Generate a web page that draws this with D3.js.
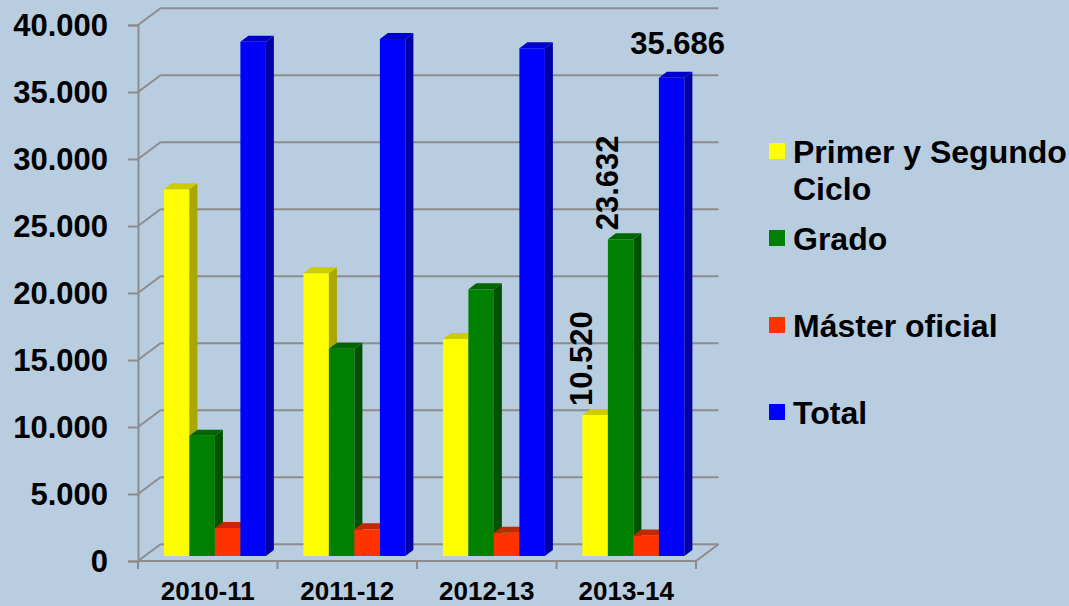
<!DOCTYPE html>
<html>
<head>
<meta charset="utf-8">
<script src="https://cdn.jsdelivr.net/npm/d3@7"></script>
<style>
  html, body { margin: 0; padding: 0; background: #b9cde0; }
  svg { display: block; }
  text { font-family: Arial, "Liberation Sans", sans-serif; font-weight: bold; fill: #000; }
</style>
</head>
<body>
<svg id="chart" width="1069" height="606"></svg>
<script>
// ---- data ----
const categories = ["2010-11", "2011-12", "2012-13", "2013-14"];
const seriesNames = ["Primer y Segundo Ciclo", "Grado", "Máster oficial", "Total"];
const primer = [27370, 21100, 16190, 10520];
const grado  = [8980, 15470, 19900, 23632];
const master = [2090, 1990, 1740, 1534];
const total  = [38380, 38580, 37890, 35686];
const yTicks = [0, 5000, 10000, 15000, 20000, 25000, 30000, 35000, 40000];
// labelled points: [series index, category index, rotated]
const labelled = [[0, 3, true], [1, 3, true], [3, 3, false]];

const seriesValues = [primer, grado, master, total];
const colors = [
  { front: "#ffff00", side: "#aaa800", top: "#cccc00" },
  { front: "#008000", side: "#005200", top: "#006600" },
  { front: "#ff3300", side: "#b02400", top: "#c42800" },
  { front: "#0000ff", side: "#0000a6", top: "#0000cc" }
];

// ---- layout ----
const svg = d3.select("#chart");
const W = 1069, H = 606;
svg.append("rect").attr("width", W).attr("height", H).attr("fill", "#b9cde0");

const x0 = 138, x1 = 696;
const yScale = d3.scaleLinear().domain([0, 40000]).range([561, 25]);
const xScale = d3.scaleBand().domain(categories).range([x0, x1]).padding(0);
const bw = xScale.bandwidth();
const inner = d3.scaleBand().domain(d3.range(4)).range([bw * 0.137, bw * 0.868]).padding(0);

const wallDx = 22.5, wallDy = -16.7;     // back wall depth
const frontDx = 6.8, frontDy = -5;       // bar front plane offset
const barDx = 8, barDy = -6;             // bar depth

const fmt = d3.formatLocale({ decimal: ",", thousands: ".", grouping: [3], currency: ["", ""] }).format(",d");
const grid = "#8c8c8c";

// back wall gridlines + side diagonals
const g = svg.append("g");
yTicks.forEach(t => {
  const y = yScale(t);
  g.append("line").attr("x1", x0 + wallDx).attr("x2", x1 + wallDx)
    .attr("y1", y + wallDy).attr("y2", y + wallDy)
    .attr("stroke", grid).attr("stroke-width", 2);
  g.append("line").attr("x1", x0).attr("x2", x0 + wallDx)
    .attr("y1", y).attr("y2", y + wallDy)
    .attr("stroke", grid).attr("stroke-width", 2);
});
// floor right edge
g.append("line").attr("x1", x1).attr("x2", x1 + wallDx)
  .attr("y1", yScale(0)).attr("y2", yScale(0) + wallDy)
  .attr("stroke", grid).attr("stroke-width", 2);

// y axis
const yAxis = d3.axisLeft(yScale).tickValues(yTicks).tickSize(10).tickPadding(20)
  .tickFormat(d => fmt(d));
const ya = svg.append("g").attr("transform", `translate(${x0},0)`).call(yAxis);
ya.select(".domain").attr("stroke", grid).attr("stroke-width", 2);
ya.selectAll(".tick line").attr("stroke", grid).attr("stroke-width", 2);
ya.selectAll(".tick text").attr("font-size", 31).attr("font-family", 'Arial, "Liberation Sans", sans-serif')
  .attr("font-weight", "bold").attr("fill", "#000").attr("dy", "0.35em");

// x axis: front edge with boundary ticks, labels at centers
svg.append("line").attr("x1", x0).attr("x2", x1).attr("y1", yScale(0)).attr("y2", yScale(0))
  .attr("stroke", grid).attr("stroke-width", 2);
const bounds = categories.map(c => xScale(c)).concat([x1]);
svg.selectAll(".xtick").data(bounds).join("line").attr("class", "xtick")
  .attr("x1", d => d).attr("x2", d => d).attr("y1", yScale(0)).attr("y2", yScale(0) + 8)
  .attr("stroke", grid).attr("stroke-width", 2);
svg.selectAll(".xlab").data(categories).join("text").attr("class", "xlab")
  .attr("x", d => xScale(d) + bw / 2).attr("y", 600)
  .attr("text-anchor", "middle").attr("font-size", 26).text(d => d);

// bars (painter's order: category, then series left to right)
const bars = svg.append("g");
categories.forEach((c, ci) => {
  seriesValues.forEach((vals, si) => {
    const v = vals[ci];
    const bx = xScale(c) + inner(si) + frontDx;
    const w = inner.bandwidth();
    const yb = yScale(0) + frontDy;
    const yt = yScale(v) + frontDy;
    const col = colors[si];
    // front
    bars.append("rect").attr("x", bx).attr("y", yt).attr("width", w).attr("height", yb - yt)
      .attr("fill", col.front);
    // side
    bars.append("polygon").attr("points", [
      [bx + w, yt], [bx + w + barDx, yt + barDy], [bx + w + barDx, yb + barDy], [bx + w, yb]
    ].map(p => p.join(",")).join(" ")).attr("fill", col.side);
    // top
    bars.append("polygon").attr("points", [
      [bx, yt], [bx + barDx, yt + barDy], [bx + w + barDx, yt + barDy], [bx + w, yt]
    ].map(p => p.join(",")).join(" ")).attr("fill", col.top);
  });
});

// data labels
labelled.forEach(([si, ci, rot]) => {
  const v = seriesValues[si][ci];
  const w = inner.bandwidth();
  const cx = xScale(categories[ci]) + inner(si) + frontDx + w / 2;
  const yt = yScale(v) + frontDy;
  if (rot) {
    svg.append("text").attr("font-size", 31).attr("text-anchor", "start")
      .attr("transform", `translate(${cx - 3},${yt - 9}) rotate(-90)`)
      .text(fmt(v));
  } else {
    svg.append("text").attr("font-size", 31).attr("text-anchor", "middle")
      .attr("x", cx + 6).attr("y", yt - 24).text(fmt(v));
  }
});

// legend
const legendBase = [163, 250, 337, 424];
const lg = svg.append("g");
seriesNames.forEach((name, i) => {
  lg.append("rect").attr("x", 769).attr("y", legendBase[i] - 20).attr("width", 16).attr("height", 16)
    .attr("fill", colors[i].front);
});
const legendLines = [["Primer y Segundo", "Ciclo"], ["Grado"], ["Máster oficial"], ["Total"]];
legendLines.forEach((lines, i) => {
  const t = lg.append("text").attr("x", 793).attr("y", legendBase[i]).attr("font-size", 32);
  lines.forEach((ln, j) => {
    t.append("tspan").attr("x", 793).attr("dy", j === 0 ? 0 : 37).text(ln);
  });
});
</script>
</body>
</html>
